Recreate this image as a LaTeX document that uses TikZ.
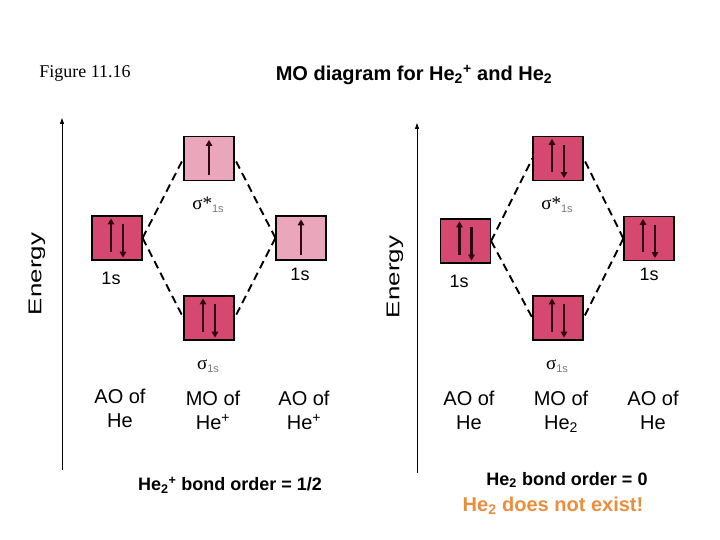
\documentclass[tikz,border=0pt]{standalone}
\usepackage{fontspec}
\usepackage{graphicx}
\setmainfont{Liberation Sans}
\newfontfamily\timesf{Liberation Serif}
\usetikzlibrary{arrows.meta,calc}
\definecolor{darkpink}{RGB}{213,72,112}
\definecolor{lightpink}{RGB}{234,166,186}
\definecolor{spincol}{RGB}{45,8,16}
\definecolor{warnorange}{RGB}{234,142,62}
\definecolor{subgray}{RGB}{120,120,120}
\tikzset{
  orb/.style={draw=black,line width=1.2pt,minimum width=50pt,minimum height=44pt,inner sep=0pt},
  full/.style={orb,fill=darkpink},
  half/.style={orb,fill=lightpink},
  spin/.style={draw=spincol,line width=2.6pt,-{Triangle[length=6pt,width=6.5pt]}},
  corr/.style={draw=black,line width=1.9pt,dash pattern=on 8pt off 5pt},
  axis/.style={draw=black,line width=0.9pt,-{Triangle[length=6pt,width=4pt]}},
  lbl/.style={font=\fontsize{20}{24}\selectfont,inner sep=0pt,align=center,anchor=north},
  orbl/.style={font=\fontsize{18}{20}\selectfont,inner sep=0pt},
  sig/.style={inner sep=0pt},
}
\newcommand{\sigs}[1]{{\timesf\fontsize{19}{18}\selectfont σ#1}{\color{subgray}\fontsize{11}{11}\selectfont\raisebox{-3pt}{1s}}}
\newcommand{\pairspin}[1]{%
  \draw[spin] ([xshift=-6pt,yshift=9pt]#1.south) -- ([xshift=-6pt,yshift=-3pt]#1.north);
  \draw[spin] ([xshift=6pt,yshift=-9pt]#1.north) -- ([xshift=6pt,yshift=3pt]#1.south);}
\newcommand{\onespin}[1]{%
  \draw[spin] ([yshift=6pt]#1.south) -- ([yshift=-4pt]#1.north);}
\newcommand{\energylabel}{\rotatebox{90}{\scalebox{1.4}[1]{\fontsize{18.5}{20}\selectfont Energy}}}
\begin{document}
\begin{tikzpicture}[x=1pt,y=-1pt]
\useasboundingbox[fill=white] (0,0) rectangle (720,540);
% titles
\node[inner sep=0pt] (fig) at (85,73) {\timesf\fontsize{18}{18}\selectfont Figure 11.16};
\node[inner sep=0pt] (title) at (414,75) {\fontsize{20}{22}\selectfont\bfseries MO diagram for He\textsubscript{2}\textsuperscript{+} and He\textsubscript{2}};
% axes
\coordinate (a1b) at (62,470); \coordinate (a1t) at (62,118);
\draw[axis] (a1b) -- (a1t);
\node[inner sep=0pt] (en1) at (37,274) {\energylabel};
\coordinate (a2b) at (417,473); \coordinate (a2t) at (417,123);
\draw[axis] (a2b) -- (a2t);
\node[inner sep=0pt] (en2) at (395,277) {\energylabel};
% ---------- left diagram ----------
\node[full] (L1) at (117,238) {};
\node[half] (Ls) at (209,158.5) {};
\node[half] (L2) at (301,238) {};
\node[full] (Lb) at (209,318) {};
\draw[corr] (L1.east) -- (Ls.west);
\draw[corr] (L1.east) -- (Lb.west);
\draw[corr] (L2.west) -- (Ls.east);
\draw[corr] (L2.west) -- (Lb.east);
\pairspin{L1}
\onespin{Ls}
\onespin{L2}
\pairspin{Lb}
\node[sig] (Lsl) at (208,205) {\sigs{*}};
\node[sig] (Lbl) at (208,366) {\sigs{}};
\node[orbl] (L1l) at (111,278) {1s};
\node[orbl] (L2l) at (300,274) {1s};
\node[lbl] (Lt1) at (120,389) {AO of\\He};
\node[lbl] (Lt2) at (213,391) {MO of\\He\textsuperscript{+}};
\node[lbl] (Lt3) at (304,391) {AO of\\He\textsuperscript{+}};
\node[inner sep=0pt] (Lbo) at (230,485) {\fontsize{18}{20}\selectfont\bfseries He\textsubscript{2}\textsuperscript{+} bond order = 1/2};
% ---------- right diagram ----------
\node[full] (R1) at (465.5,241) {};
\node[full] (Rs) at (558,158.5) {};
\node[full] (R2) at (649,238.5) {};
\node[full] (Rb) at (558,318) {};
\draw[corr] (R1.east) -- (Rs.west);
\draw[corr] (R1.east) -- (Rb.west);
\draw[corr] (R2.west) -- (Rs.east);
\draw[corr] (R2.west) -- (Rb.east);
\pairspin{R1}
\pairspin{Rs}
\pairspin{R2}
\pairspin{Rb}
\node[sig] (Rsl) at (557,205) {\sigs{*}};
\node[sig] (Rbl) at (557,366) {\sigs{}};
\node[orbl] (R1l) at (459,281) {1s};
\node[orbl] (R2l) at (649,274) {1s};
\node[lbl] (Rt1) at (469,391) {AO of\\He};
\node[lbl] (Rt2) at (561,391) {MO of\\He\textsubscript{2}};
\node[lbl] (Rt3) at (653,391) {AO of\\He};
\node[inner sep=0pt] (Rbo) at (567,480) {\fontsize{18}{20}\selectfont\bfseries He\textsubscript{2} bond order = 0};
\node[inner sep=0pt,text=warnorange] (Rno) at (553,506) {\fontsize{20}{22}\selectfont\bfseries He\textsubscript{2} does not exist!};
\end{tikzpicture}
\end{document}
